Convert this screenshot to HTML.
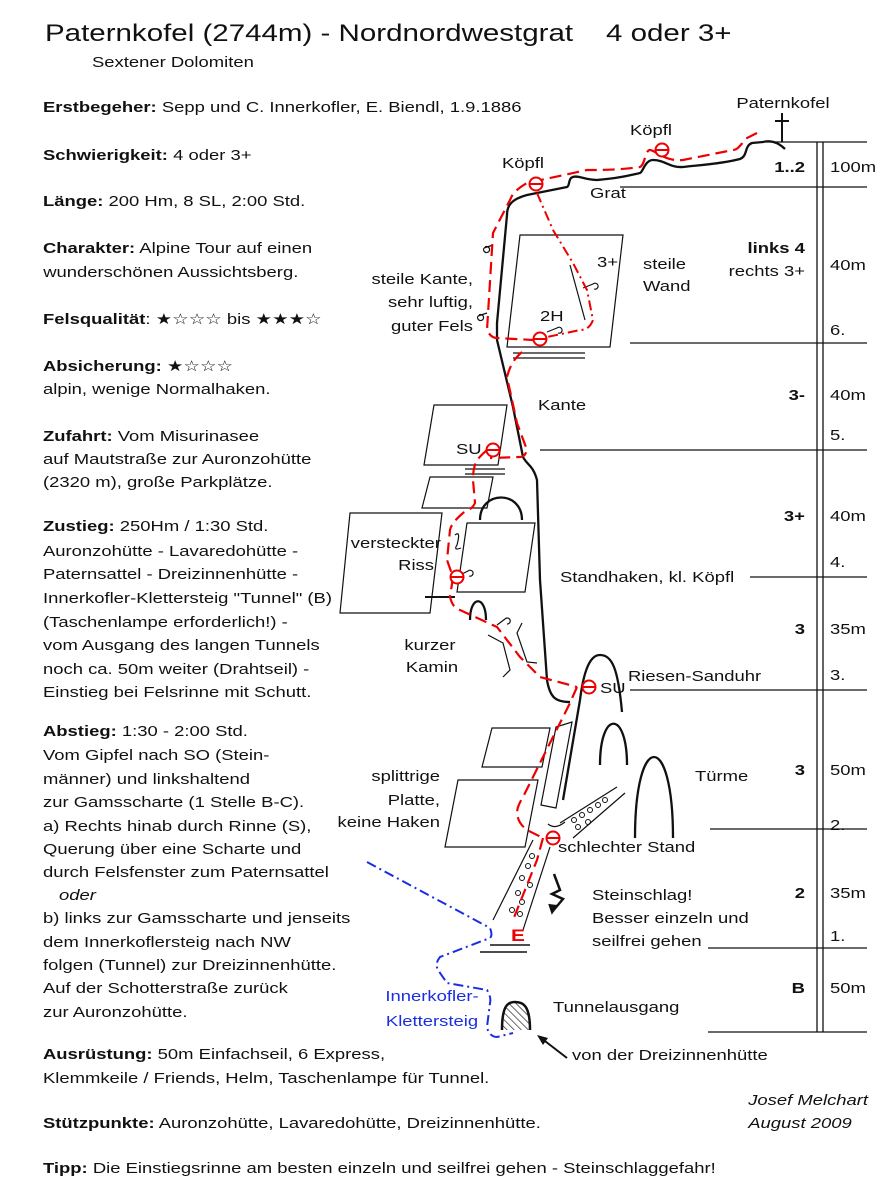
<!DOCTYPE html>
<html><head><meta charset="utf-8"><style>
html,body{margin:0;padding:0;background:#fff}
svg{display:block}
text{font-family:"Liberation Sans","DejaVu Sans",sans-serif;font-size:15px;fill:#111;transform-box:fill-box;transform-origin:0% 50%;transform:scaleX(1.23)}
.b{font-weight:bold}
.r{text-anchor:end;transform-origin:100% 50%}
.m{text-anchor:middle;transform-origin:50% 50%}
</style></head><body>
<svg width="887" height="1200" viewBox="0 0 887 1200" xmlns="http://www.w3.org/2000/svg">
<text x="45" y="41" style="font-size:24px">Paternkofel (2744m) - Nordnordwestgrat</text>
<text x="606" y="41" style="font-size:24px">4 oder 3+</text>
<text x="92" y="67">Sextener Dolomiten</text>

<text x="43" y="112"><tspan class="b">Erstbegeher:</tspan> Sepp und C. Innerkofler, E. Biendl, 1.9.1886</text>
<text x="43" y="160"><tspan class="b">Schwierigkeit:</tspan> 4 oder 3+</text>
<text x="43" y="206"><tspan class="b">Länge:</tspan> 200 Hm,  8 SL,  2:00 Std.</text>
<text x="43" y="253"><tspan class="b">Charakter:</tspan> Alpine Tour auf einen</text>
<text x="43" y="277">wunderschönen Aussichtsberg.</text>
<text x="43" y="324"><tspan class="b">Felsqualität</tspan>:  ★☆☆☆  bis  ★★★☆</text>
<text x="43" y="371"><tspan class="b">Absicherung:</tspan> ★☆☆☆</text>
<text x="43" y="394">alpin, wenige Normalhaken.</text>
<text x="43" y="441"><tspan class="b">Zufahrt:</tspan> Vom Misurinasee</text>
<text x="43" y="464">auf Mautstraße zur Auronzohütte</text>
<text x="43" y="487">(2320 m), große Parkplätze.</text>
<text x="43" y="531"><tspan class="b">Zustieg:</tspan> 250Hm / 1:30 Std.</text>
<text x="43" y="556">Auronzohütte - Lavaredohütte -</text>
<text x="43" y="579">Paternsattel - Dreizinnenhütte -</text>
<text x="43" y="603">Innerkofler-Klettersteig "Tunnel" (B)</text>
<text x="43" y="627">(Taschenlampe erforderlich!) -</text>
<text x="43" y="650">vom Ausgang des langen Tunnels</text>
<text x="43" y="674">noch ca. 50m weiter (Drahtseil) -</text>
<text x="43" y="697">Einstieg bei Felsrinne mit Schutt.</text>
<text x="43" y="736"><tspan class="b">Abstieg:</tspan> 1:30 - 2:00 Std.</text>
<text x="43" y="760">Vom Gipfel nach SO (Stein-</text>
<text x="43" y="784">männer) und linkshaltend</text>
<text x="43" y="807">zur Gamsscharte (1 Stelle B-C).</text>
<text x="43" y="831">a) Rechts hinab durch Rinne (S),</text>
<text x="43" y="854">Querung über eine Scharte und</text>
<text x="43" y="877">durch Felsfenster zum Paternsattel</text>
<text x="59" y="900" style="font-style:italic">oder</text>
<text x="43" y="923">b) links zur Gamsscharte und jenseits</text>
<text x="43" y="947">dem Innerkoflersteig nach NW</text>
<text x="43" y="970">folgen (Tunnel) zur Dreizinnenhütte.</text>
<text x="43" y="993">Auf der Schotterstraße zurück</text>
<text x="43" y="1017">zur Auronzohütte.</text>
<text x="43" y="1059"><tspan class="b">Ausrüstung:</tspan> 50m Einfachseil, 6 Express,</text>
<text x="43" y="1083">Klemmkeile / Friends, Helm, Taschenlampe für Tunnel.</text>
<text x="43" y="1128"><tspan class="b">Stützpunkte:</tspan> Auronzohütte, Lavaredohütte, Dreizinnenhütte.</text>
<text x="43" y="1173"><tspan class="b">Tipp:</tspan> Die Einstiegsrinne am besten einzeln und seilfrei gehen - Steinschlaggefahr!</text>
<text x="748" y="1105" style="font-style:italic">Josef Melchart</text>
<text x="748" y="1128" style="font-style:italic">August 2009</text>

<g stroke="#111" stroke-width="1.3" fill="none">
<line x1="817" y1="142" x2="817" y2="1032"/><line x1="823" y1="142" x2="823" y2="1032"/>
<line x1="765" y1="142" x2="867" y2="142"/>
<line x1="620" y1="187" x2="867" y2="187"/>
<line x1="630" y1="343" x2="867" y2="343"/>
<line x1="540" y1="450" x2="867" y2="450"/>
<line x1="750" y1="577" x2="867" y2="577"/>
<line x1="630" y1="690" x2="867" y2="690"/>
<line x1="710" y1="829" x2="867" y2="829"/>
<line x1="708" y1="948" x2="867" y2="948"/>
<line x1="708" y1="1032" x2="867" y2="1032"/>
</g>
<text x="805" y="172" class="r b">1..2</text>
<text x="805" y="253" class="r b">links 4</text>
<text x="805" y="276" class="r">rechts 3+</text>
<text x="805" y="400" class="r b">3-</text>
<text x="805" y="521" class="r b">3+</text>
<text x="805" y="634" class="r b">3</text>
<text x="805" y="775" class="r b">3</text>
<text x="805" y="898" class="r b">2</text>
<text x="805" y="993" class="r b">B</text>
<g>
<text x="830" y="172">100m</text><text x="830" y="270">40m</text><text x="830" y="335">6.</text>
<text x="830" y="400">40m</text><text x="830" y="440">5.</text><text x="830" y="521">40m</text>
<text x="830" y="567">4.</text><text x="830" y="634">35m</text><text x="830" y="680">3.</text>
<text x="830" y="775">50m</text><text x="830" y="830">2.</text><text x="830" y="898">35m</text>
<text x="830" y="941">1.</text><text x="830" y="993">50m</text>
</g>

<g stroke="#111" stroke-width="1.2" fill="none">
<polygon points="520,235 623,235 610,347 507,347"/>
<line x1="513" y1="353" x2="585" y2="353"/><line x1="513" y1="358" x2="585" y2="358"/>
<polygon points="434,405 507,405 498,465 424,465"/>
<line x1="465" y1="469" x2="505" y2="469"/><line x1="465" y1="474" x2="505" y2="474"/>
<polygon points="430,477 493,477 487,508 422,508"/>
<polygon points="350,513 442,513 430,613 340,613"/>
<polygon points="467,523 535,523 525,592 457,592"/>
<line x1="425" y1="597" x2="455" y2="597" stroke-width="2"/>
<polygon points="492,728 550,728 542,767 482,767"/>
<polygon points="458,780 538,780 525,847 445,847"/>
<polygon points="556,727 572,722 556,808 541,805"/>
<path d="M488,635 L503,643 L510,670 L503,677"/><path d="M522,623 L517,633 L527,662 L537,663"/>
<path d="M560,823 L617,787 M573,838 L625,793"/>
<path d="M533,840 L493,920 M550,847 L523,930"/>
<line x1="490" y1="945" x2="530" y2="945" stroke-width="1.5"/><line x1="480" y1="952" x2="527" y2="952" stroke-width="1.5"/>
<g stroke-width="1"><circle cx="574" cy="820" r="2.5"/><circle cx="582" cy="815" r="2.5"/><circle cx="590" cy="810" r="2.5"/><circle cx="598" cy="805" r="2.5"/><circle cx="605" cy="800" r="2.5"/><circle cx="578" cy="827" r="2.5"/><circle cx="588" cy="822" r="2.5"/>
<circle cx="532" cy="856" r="2.5"/><circle cx="528" cy="866" r="2.5"/><circle cx="522" cy="878" r="2.5"/><circle cx="530" cy="885" r="2.5"/><circle cx="518" cy="893" r="2.5"/><circle cx="522" cy="902" r="2.5"/><circle cx="512" cy="910" r="2.5"/><circle cx="520" cy="914" r="2.5"/></g>
<path d="M548,824 Q555,830 565,822" />
<path d="M493,245 l-9,3 m0,0 a3,3 0 1,0 1,-1"/>
<path d="M487,313 l-9,3 m0,0 a3,3 0 1,0 1,-1"/>
<path d="M583,288 l10,-4 m0,0 a3,3 0 1,1 1,5"/>
<path d="M547,332 l10,-4 m0,0 a3,3 0 1,1 1,5"/>
<path d="M460,575 l8,-4 m0,0 a3,3 0 1,1 1,5"/>
<path d="M497,625 l8,-6 m0,0 a3,3 0 1,1 2,5"/>
<path d="M455,535 q6,-5 2,10 q-4,6 4,3"/>
<line x1="570" y1="265" x2="585" y2="320"/>
</g>
<g stroke="#111" stroke-width="2.3" fill="none">
<path d="M480,520 C480,490 522,490 522,520"/>
<path d="M470,620 C470,595 486,595 486,620"/>
<path d="M600,765 C600,710 627,710 627,765"/>
<path d="M635,838 C635,730 673,730 673,838"/>
<path d="M580,700 C585,660 594,655 600,655 C612,655 618,668 622,712"/>
<path d="M580,700 L563,800"/>
<path d="M785,149 C778,142 770,140 763,142 L752,143 C744,146 748,156 740,159 C720,164 700,165 683,167 C670,168 665,160 653,160 C645,160 643,172 640,173 C620,178 608,179 597,180 C585,180 578,175 573,177 C568,178 570,186 567,187 L527,195 C512,199 507,205 507,215 L497,323 L497,340 L513,407 L523,457 C527,465 533,465 537,480 L540,580 L547,680 C550,698 556,702 570,702"/>
<path d="M554,874 L560,890 L552,894 L563,899 L552,912" stroke-width="2.5"/>
<path d="M549,904 L552,913 L557,905" fill="#111" stroke-width="1.5"/>
<line x1="782" y1="113" x2="782" y2="142" stroke-width="2"/><line x1="775" y1="121" x2="789" y2="121" stroke-width="2"/>
</g>
<defs><pattern id="h" width="5" height="5" patternUnits="userSpaceOnUse" patternTransform="rotate(-45)"><line x1="0" y1="0" x2="0" y2="5" stroke="#111" stroke-width="1.3"/></pattern></defs>
<path d="M502,1030 C502,1005 508,1002 515,1002 C523,1002 530,1005 530,1030 Z" fill="url(#h)" stroke="none"/>
<path d="M502,1030 C502,1005 508,1002 515,1002 C523,1002 530,1005 530,1030" fill="none" stroke="#111" stroke-width="2.5"/>
<line x1="567" y1="1058" x2="541" y2="1038" stroke="#111" stroke-width="2"/>
<path d="M537,1035 L548,1038 L543,1045 Z" fill="#111"/>

<g stroke="#e00" stroke-width="2.2" fill="none" stroke-dasharray="12,6">
<path d="M757,133 L747,138 C740,145 738,150 733,150 L683,160 C665,162 655,150 650,150 C645,150 645,165 640,167 C620,170 600,170 587,170 L527,183 C515,190 512,195 510,200 L493,233 L487,330 C490,336 493,338 497,338 L533,340"/>
<path d="M522,352 C515,358 510,365 507,377 L517,423 L527,450 C525,456 523,457 520,457 L490,458"/>
<path d="M487,450 C478,458 473,462 473,480 L475,503 C472,510 465,511 463,513 C455,520 451,525 450,530 L447,560 L453,577 L450,597 C452,605 455,608 460,610 L497,627 L520,657 L540,677 L577,687"/>
<path d="M577,687 L570,703 L523,797 C518,805 517,810 517,813 C518,822 522,826 527,830 L543,838"/>
<path d="M543,838 L537,860 L513,920"/>
</g>
<path d="M537,193 L553,230 L573,263 L587,290 L593,320 C590,328 585,330 580,330 L533,340" stroke="#e00" stroke-width="2" fill="none" stroke-dasharray="10,4,2,4"/>
<g stroke="#e00" stroke-width="2" fill="#fff">
<circle cx="536" cy="184" r="6.5"/><circle cx="662" cy="150" r="6.5"/><circle cx="540" cy="339" r="6.5"/>
<circle cx="493" cy="450" r="6.5"/><circle cx="457" cy="577" r="6.5"/><circle cx="589" cy="687" r="6.5"/><circle cx="553" cy="838" r="6.5"/>
</g>
<g stroke="#e00" stroke-width="2">
<line x1="529" y1="184" x2="543" y2="184"/><line x1="655" y1="150" x2="669" y2="150"/><line x1="533" y1="339" x2="547" y2="339"/>
<line x1="486" y1="450" x2="500" y2="450"/><line x1="450" y1="577" x2="464" y2="577"/><line x1="582" y1="687" x2="596" y2="687"/><line x1="546" y1="838" x2="560" y2="838"/>
</g>
<text x="518" y="941" class="m b" style="fill:#e00;font-size:17px">E</text>

<path d="M367,862 L490,928 C492,933 492,936 490,938 L440,957 C436,962 436,966 438,970 L447,983 L487,990 C490,995 491,999 490,1003 L487,1027 C488,1033 492,1037 497,1037 L513,1033" stroke="#1a2ee0" stroke-width="2" fill="none" stroke-dasharray="10,4,2,4"/>
<text x="432" y="1001" class="m" style="fill:#1a2ee0">Innerkofler-</text>
<text x="432" y="1026" class="m" style="fill:#1a2ee0">Klettersteig</text>

<text x="783" y="108" class="m">Paternkofel</text>
<text x="651" y="135" class="m">Köpfl</text>
<text x="523" y="168" class="m">Köpfl</text>
<text x="590" y="198">Grat</text>
<text x="473" y="284" class="r">steile Kante,</text>
<text x="473" y="307" class="r">sehr luftig,</text>
<text x="473" y="331" class="r">guter Fels</text>
<text x="643" y="269">steile</text><text x="643" y="291">Wand</text>
<text x="597" y="267">3+</text>
<text x="540" y="321">2H</text>
<text x="538" y="410">Kante</text>
<text x="456" y="454">SU</text>
<text x="441" y="548" class="r">versteckter</text>
<text x="434" y="570" class="r">Riss</text>
<text x="560" y="582">Standhaken, kl. Köpfl</text>
<text x="430" y="650" class="m">kurzer</text>
<text x="432" y="672" class="m">Kamin</text>
<text x="600" y="693">SU</text>
<text x="628" y="681">Riesen-Sanduhr</text>
<text x="440" y="781" class="r">splittrige</text>
<text x="440" y="805" class="r">Platte,</text>
<text x="440" y="827" class="r">keine Haken</text>
<text x="695" y="781">Türme</text>
<text x="558" y="852">schlechter Stand</text>
<text x="592" y="900">Steinschlag!</text>
<text x="592" y="923">Besser einzeln und</text>
<text x="592" y="946">seilfrei gehen</text>
<text x="553" y="1012">Tunnelausgang</text>
<text x="572" y="1060">von der Dreizinnenhütte</text>
</svg>
</body></html>
